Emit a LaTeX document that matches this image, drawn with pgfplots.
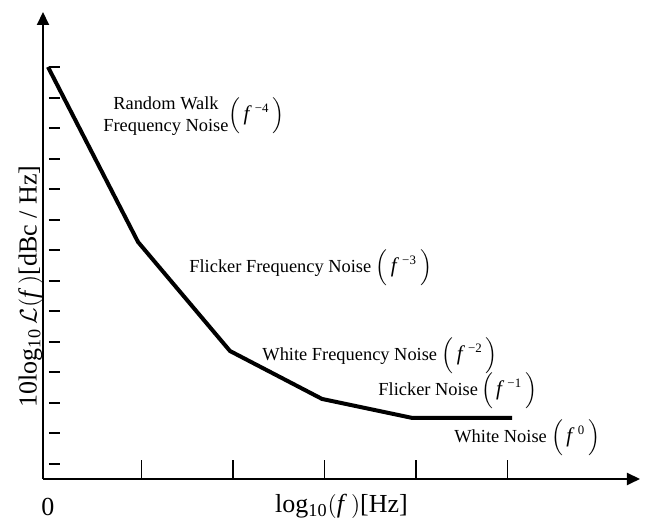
\documentclass[border=0pt]{standalone}
\usepackage{fontspec}
\setmainfont{Liberation Serif}
\usepackage{pgfplots}
\pgfplotsset{compat=1.18}
\usetikzlibrary{arrows.meta,calc}
\newcommand{\ann}{\fontsize{9.2}{11}\selectfont}
\newcommand{\pw}[1]{$\left(\vrule height 10pt depth 5.5pt width 0pt\,\mbox{{\fontsize{10.5}{11}\selectfont\textit{f}}\,\textsuperscript{#1}}\,\right)$}
\begin{document}
\begin{tikzpicture}
\begin{axis}[
  scale only axis, width=298.5pt, height=233.5pt,
  xmin=-0.0765, xmax=6.448, ymin=0.509, ymax=15.8,
  axis lines=left,
  axis line style={line width=1pt, -{Triangle[length=6.5pt,width=6pt]}},
  tick align=inside,
  xtick={1,2,3,4,5}, xticklabels={},
  ytick={1,...,14}, yticklabels={},
  xtick style={line width=0.9pt, /pgfplots/major tick length=9.5pt, black},
  ytick style={line width=1pt, /pgfplots/major tick length=5.5pt, xshift=3pt, black},
  xlabel={log\textsubscript{10}$\bigl(\mbox{\textit{f}}\,\bigr)$[Hz]},
  ylabel={10log\textsubscript{10}\,$\mathcal{L}\bigl(\mbox{\textit{f}}\,\bigr)$[dBc / Hz]},
  label style={font=\fontsize{13}{15}\selectfont},
  xlabel style={at={(axis description cs:0.5,0)}, anchor=north, yshift=-7.5pt, inner sep=0pt},
  ylabel style={at={(axis description cs:0,0.425)}, anchor=south, xshift=-3pt, inner sep=0pt},
  clip=false,
]
\addplot[black, line width=2pt] coordinates {
  (-0.022,14.0) (0.962,8.27) (1.967,4.70) (2.973,3.13) (3.956,2.51) (5.05,2.51)
};
\coordinate (O) at (rel axis cs:0,0);
\node[anchor=north, inner sep=0pt, font=\fontsize{13}{15}\selectfont] at (axis cs:-0.022,0.509) [yshift=-9.5pt] {0};
\node[anchor=west, inner sep=0pt, font=\ann] at (axis cs:0.579,12.39)
  {\begin{tabular}{@{}c@{}}Random Walk\\Frequency Noise\end{tabular}\pw{−4}};
\node[anchor=west, inner sep=0pt, font=\ann] at (axis cs:1.519,7.42) {Flicker Frequency Noise \pw{−3}};
\node[anchor=west, inner sep=0pt, font=\ann] at (axis cs:2.317,4.54) {White Frequency Noise \pw{−2}};
\node[anchor=west, inner sep=0pt, font=\ann] at (axis cs:3.585,3.39) {Flicker Noise\,\pw{−1}};
\node[anchor=west, inner sep=0pt, font=\ann] at (axis cs:4.415,1.85) {White Noise \pw{0}};
\end{axis}
\pgfresetboundingbox
\path ($(O)+(-21.5pt,-20pt)$) rectangle ($(O)+(301pt,239.5pt)$);
\end{tikzpicture}
\end{document}
